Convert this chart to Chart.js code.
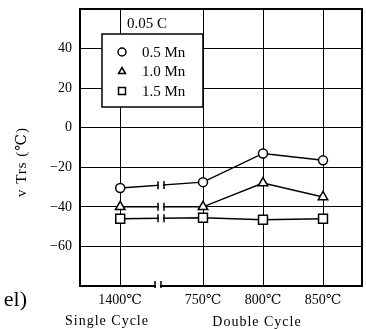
<!DOCTYPE html>
<html>
<head>
<meta charset="utf-8">
<script src="https://cdn.jsdelivr.net/npm/chart.js@4"></script>
<style>
  body { margin: 0; background: #fff; }
  #wrap { width: 366px; height: 329px; }
</style>
</head>
<body>
<div id="wrap"><canvas id="chart"></canvas></div>
<script>
// values
const categories = ['1400℃', '750℃', '800℃', '850℃'];
const xPos = [0.67, 2.05, 3.05, 4.05];
const seriesLabels = ['0.5 Mn', '1.0 Mn', '1.5 Mn'];
const mn05 = [-30.5, -27.5, -13, -16.5];
const mn10 = [-40, -40, -28, -35];
const mn15 = [-46, -45.5, -46.5, -46];

const serif = "'Liberation Serif', 'DejaVu Serif', serif";
const styles = ['circle', 'triangle', 'rect'];
const radii = [4.5, 5.5, 6.3];

function points(vals) {
  return xPos.map((x, i) => ({ x: x, y: vals[i] }));
}

const datasets = [mn05, mn10, mn15].map((vals, i) => ({
  label: seriesLabels[i],
  data: points(vals),
  borderColor: '#000',
  borderWidth: 1.5,
  pointStyle: styles[i],
  pointRadius: radii[i],
  pointBackgroundColor: '#fff',
  pointBorderColor: '#000',
  pointBorderWidth: 1.5,
  tension: 0
}));

function marker(ctx, style, x, y, r) {
  ctx.beginPath();
  if (style === 'circle') {
    ctx.arc(x, y, r, 0, Math.PI * 2);
  } else if (style === 'triangle') {
    ctx.moveTo(x, y - r);
    ctx.lineTo(x + r * 0.87, y + r * 0.5);
    ctx.lineTo(x - r * 0.87, y + r * 0.5);
    ctx.closePath();
  } else {
    ctx.rect(x - r, y - r, r * 2, r * 2);
  }
  ctx.fillStyle = '#fff';
  ctx.fill();
  ctx.stroke();
}

const extras = {
  id: 'extras',
  afterDraw(chart) {
    const ctx = chart.ctx;
    const a = chart.chartArea;
    const xs = chart.scales.x;
    ctx.save();
    ctx.strokeStyle = '#000';
    ctx.fillStyle = '#000';

    // top and right frame
    ctx.lineWidth = 2;
    ctx.beginPath();
    ctx.moveTo(a.left, a.top);
    ctx.lineTo(a.right, a.top);
    ctx.lineTo(a.right, a.bottom);
    ctx.stroke();

    // breaks in the data lines
    const b1 = xs.getPixelForValue(1.3), b2 = xs.getPixelForValue(1.4);
    ctx.lineWidth = 1.5;
    chart.data.datasets.forEach((ds, i) => {
      const m = chart.getDatasetMeta(i).data;
      const p0 = m[0], p1 = m[1];
      const yAt = x => p0.y + (p1.y - p0.y) * (x - p0.x) / (p1.x - p0.x);
      ctx.fillStyle = '#fff';
      ctx.fillRect(b1 + 1, Math.min(yAt(b1), yAt(b2)) - 3, b2 - b1 - 2, Math.abs(yAt(b2) - yAt(b1)) + 6);
      [b1, b2].forEach(x => {
        ctx.beginPath();
        ctx.moveTo(x, yAt(x) - 4);
        ctx.lineTo(x, yAt(x) + 4);
        ctx.stroke();
      });
    });

    // break in the x axis
    const c1 = xs.getPixelForValue(1.25), c2 = xs.getPixelForValue(1.35);
    ctx.fillStyle = '#fff';
    ctx.fillRect(c1 + 1, a.bottom - 3, c2 - c1 - 2, 6);
    [c1, c2].forEach(x => {
      ctx.beginPath();
      ctx.moveTo(x, a.bottom - 5);
      ctx.lineTo(x, a.bottom + 2);
      ctx.stroke();
    });

    // legend box
    ctx.fillStyle = '#fff';
    ctx.fillRect(102, 34, 101, 73);
    ctx.lineWidth = 1.5;
    ctx.strokeRect(102, 34, 101, 73);
    ctx.font = '15px ' + serif;
    ctx.textBaseline = 'middle';
    ctx.textAlign = 'left';
    seriesLabels.forEach((lab, i) => {
      const y = 52 + i * 19.5;
      ctx.lineWidth = 1.5;
      marker(ctx, styles[i], 122, y, i === 2 ? 3.5 : 4);
      ctx.fillStyle = '#000';
      ctx.fillText(lab, 142, y + 1);
    });
    ctx.fillText('0.05 C', 127, 24);

    // y axis title
    ctx.save();
    ctx.translate(22, 162);
    ctx.rotate(-Math.PI / 2);
    ctx.textAlign = 'center';
    ctx.font = '15px ' + serif;
    ctx.letterSpacing = '1px';
    ctx.fillText('v Trs (℃)', 0, 0);
    ctx.restore();

    // cycle labels
    ctx.textAlign = 'center';
    ctx.font = '14px ' + serif;
    ctx.letterSpacing = '1px';
    ctx.fillText('Single Cycle', 107, 321);
    ctx.fillText('Double Cycle', 257, 322);
    ctx.letterSpacing = '0px';

    // cut-off caption at the left edge
    ctx.textAlign = 'right';
    ctx.font = '22px ' + serif;
    ctx.fillText('el)', 27, 300);
    ctx.restore();
  }
};

new Chart(document.getElementById('chart'), {
  type: 'line',
  data: { datasets: datasets },
  options: {
    responsive: true,
    maintainAspectRatio: false,
    animation: false,
    layout: { autoPadding: false, padding: { top: 9, right: 4, left: 0, bottom: 0 } },
    plugins: { legend: { display: false }, tooltip: { enabled: false } },
    scales: {
      x: {
        type: 'linear',
        min: 0,
        max: 4.7,
        afterBuildTicks: axis => { axis.ticks = xPos.map(v => ({ value: v })); },
        afterFit: s => { s.height = 43; s.paddingLeft = 0; s.paddingRight = 0; },
        ticks: {
          autoSkip: false,
          maxRotation: 0,
          padding: 6,
          color: '#000',
          font: { family: serif, size: 14 },
          callback: (v, i) => categories[i]
        },
        grid: { color: '#000', lineWidth: 1, drawTicks: false },
        border: { display: true, color: '#000', width: 2 }
      },
      y: {
        min: -80,
        max: 60,
        afterFit: s => { s.width = 80; s.paddingTop = 0; s.paddingBottom = 0; },
        ticks: {
          stepSize: 20,
          padding: 8,
          color: '#000',
          font: { family: serif, size: 14 },
          callback: v => (v === 60 || v === -80) ? '' : (v < 0 ? '\u2212' + (-v) : String(v))
        },
        grid: { color: '#000', lineWidth: 1, drawTicks: false },
        border: { display: true, color: '#000', width: 2 }
      }
    }
  },
  plugins: [extras]
});
</script>
</body>
</html>
